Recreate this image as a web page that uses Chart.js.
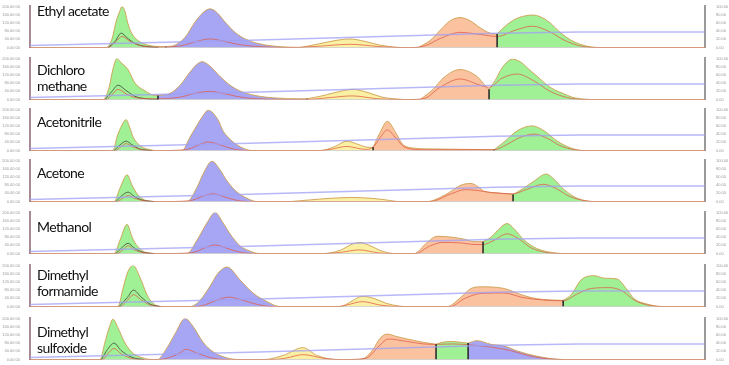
<!DOCTYPE html>
<html>
<head>
<meta charset="utf-8">
<script src="https://cdn.jsdelivr.net/npm/chart.js"></script>
<style>
  body { margin: 0; background: #fff; width: 729px; height: 365px; overflow: hidden; position: relative; }
  canvas { position: absolute; left: 0; }
  .name { position: absolute; left: 37px; font: 14px Lato, sans-serif; line-height: 16px; letter-spacing: -0.6px; color: #111; }
</style>
</head>
<body>
<script>
// retention time axis (min)
const timeMax = 32.6;
const timeTicks = [5, 10, 15, 20, 25, 30];

// solvent gradient (% B), right axis
const gradient = [[0, 5], [10.6, 18], [22.5, 35], [26.5, 38], [32.6, 38]];

// Ethyl acetate
const ethylSignal = [[0,0],[3.62,0],[3.67,0],[3.96,21],[4.15,62],[4.35,90],[4.44,100],[4.59,87],[4.73,58],[4.93,33],[5.22,17],[5.56,8],[6.04,3],[6.57,2],
  [7.00,6],[7.49,25],[7.97,62],[8.36,85],[8.70,94],[9.03,85],[9.42,62],[9.90,37],[10.39,21],[11.01,10],[11.69,4],[12.56,1],[13.04,0],
  [13.86,8],[14.73,17],[15.46,21],[16.18,15],[16.91,6],[17.63,1],[17.87,0],[18.74,0],
  [19.32,17],[19.81,42],[20.29,65],[20.77,73],[21.26,65],[21.74,48],[22.22,35],[22.56,33],
  [22.95,52],[23.43,69],[23.91,77],[24.25,79],[24.64,75],[25.12,60],[25.60,37],[26.09,19],[26.57,8],[27.05,2],[27.54,0],[32.6,0]];
const ethylCuts = [6.57, 13.04, 18.74, 22.56];
const ethylTrace = [[0,0],[3.77,0],[4.15,15],[4.44,27],[4.83,15],[5.31,5],[6.04,1],[7.25,4],[8.12,16],[8.70,21],[9.32,16],[10.14,7],[11.26,2],[12.5,0],[13.86,3],[15.46,8],[17.0,2],[18.2,0],[18.99,3],[19.81,22],[20.77,37],[21.74,32],[22.56,27],[23.43,42],[24.25,52],[25.12,38],[25.80,18],[26.57,4],[27.54,0],[32.6,0]];
const ethylDark = [[3.77,0],[4.11,15],[4.40,35],[4.73,22],[5.07,10],[5.56,3],[6.2,0]];

// Dichloromethane
const dichSignal = [[0,0],[3.53,0],[3.82,30],[4.01,75],[4.20,100],[4.35,92],[4.73,73],[5.07,40],[5.56,21],[6.04,10],[6.18,10],
  [6.76,15],[7.25,35],[7.73,67],[8.12,88],[8.31,92],[8.70,81],[9.18,56],[9.66,35],[10.14,21],[10.87,10],[11.84,4],[13.04,2],[13.38,2],
  [14.01,8],[14.73,17],[15.56,25],[16.33,17],[17.0,6],[17.87,1],[18.21,0],[18.84,0],
  [19.47,25],[19.95,52],[20.77,73],[21.59,56],[22.07,29],[22.17,25],
  [22.46,46],[22.80,77],[23.29,98],[23.67,92],[24.15,71],[24.64,50],[24.98,35],[25.36,23],[25.75,15],[26.18,6],[26.81,1],[27.29,0],[32.6,0]];
const dichCuts = [6.18, 13.38, 18.84, 22.17];
const dichTrace = [[0,0],[3.67,0],[3.96,12],[4.25,25],[4.64,14],[5.17,4],[6.18,2],[7.25,6],[8.12,17],[8.70,20],[9.42,14],[10.29,5],[11.5,1],[13.2,0],[14.5,5],[15.56,9],[16.8,2],[18.0,0],[18.99,2],[19.81,30],[20.77,50],[21.74,35],[22.17,30],[22.80,52],[23.53,62],[24.35,45],[25.12,20],[25.94,5],[26.8,0],[32.6,0]];
const dichDark = [[3.62,0],[3.96,20],[4.25,35],[4.64,22],[5.07,8],[5.6,2],[6.2,0]];

// Acetonitrile
const acnSignal = [[0,0],[4.01,0],[4.20,33],[4.44,62],[4.64,75],[4.83,54],[4.98,33],[5.31,12],[5.80,2],[6.2,0],[7.0,0],
  [7.34,0],[7.73,33],[8.07,62],[8.36,85],[8.60,98],[9.08,75],[9.32,48],[9.81,21],[10.29,6],[10.77,0],[13.5,0],
  [14.01,0],[14.73,10],[15.31,23],[15.85,15],[16.33,8],[16.57,8],
  [16.91,44],[17.25,71],[17.68,42],[17.97,17],[18.55,6],[19.5,4],[21.0,3],[22.42,2],
  [22.90,21],[23.53,48],[24.25,60],[24.83,48],[25.46,23],[26.14,6],[26.76,0],[32.6,0]];
const acnCuts = [7.0, 13.5, 16.57, 22.42];
const acnTrace = [[0,0],[4.11,0],[4.40,10],[4.64,17],[4.93,10],[5.4,2],[6.0,0],[7.5,2],[8.21,15],[8.60,21],[9.18,14],[9.81,4],[10.6,0],[14.0,0],[14.5,3],[15.31,10],[16.2,3],[16.57,8],[16.96,35],[17.25,50],[17.68,30],[18.1,8],[19.0,2],[22.42,2],[23.0,14],[23.67,32],[24.35,40],[24.98,30],[25.6,12],[26.3,2],[27.0,0],[32.6,0]];
const acnDark = [[4.06,0],[4.35,14],[4.64,23],[4.93,14],[5.3,4],[5.9,0]];

// Acetone
const acetSignal = [[0,0],[4.06,0],[4.35,33],[4.69,65],[4.93,40],[5.17,19],[5.65,2],[6.2,0],[7.2,0],
  [7.58,0],[8.07,35],[8.36,67],[8.79,98],[9.18,77],[9.52,50],[10.0,23],[10.48,8],[10.97,0],[12.56,0],
  [13.5,4],[14.5,8],[15.5,10],[16.5,8],[17.2,4],[17.87,0],[18.4,0],
  [19.18,0],[19.81,10],[20.34,25],[20.82,40],[21.30,44],[21.64,36],[21.93,25],[22.56,21],[23.33,17],
  [23.86,33],[24.35,50],[24.93,67],[25.31,54],[25.80,29],[26.43,8],[27.25,0],[32.6,0]];
const acetCuts = [7.2, 12.56, 18.4, 23.33];
const acetTrace = [[0,0],[4.2,0],[4.5,9],[4.74,15],[5.0,9],[5.5,2],[6.2,0],[7.7,2],[8.4,14],[8.84,19],[9.3,13],[9.9,4],[10.6,0],[19.3,0],[20.3,18],[21.0,29],[21.6,27],[22.3,22],[23.33,19],[24.0,30],[24.8,42],[25.4,32],[26.0,14],[26.7,3],[27.3,0],[32.6,0]];
const acetDark = [[4.15,0],[4.45,15],[4.74,23],[5.0,14],[5.4,4],[6.0,0]];

// Methanol
const methSignal = [[0,0],[4.06,0],[4.35,33],[4.69,71],[4.93,40],[5.17,19],[5.65,2],[6.2,0],[7.2,0],
  [7.58,0],[8.07,33],[8.55,75],[8.94,100],[9.32,75],[9.66,48],[10.14,19],[10.63,6],[11.11,0],[13.5,0],
  [14.11,0],[14.98,8],[15.56,23],[15.94,27],[16.43,19],[17.0,6],[17.63,0],[18.3,0],
  [18.55,0],[19.18,27],[19.66,42],[20.34,40],[20.97,35],[21.45,29],[21.88,29],
  [22.27,40],[22.66,60],[23.04,73],[23.38,60],[23.86,33],[24.49,12],[25.31,2],[25.94,0],[32.6,0]];
const methCuts = [7.2, 13.5, 18.3, 21.88];
const methTrace = [[0,0],[4.2,0],[4.5,10],[4.74,19],[5.0,10],[5.5,2],[6.2,0],[7.8,2],[8.5,15],[8.94,21],[9.5,13],[10.1,4],[10.8,0],[14.2,0],[15.0,3],[15.9,9],[16.8,2],[17.5,0],[18.6,0],[19.3,18],[19.9,27],[20.8,26],[21.5,22],[21.88,22],[22.4,32],[23.04,48],[23.6,36],[24.2,14],[24.9,3],[25.6,0],[32.6,0]];
const methDark = [[4.15,0],[4.45,15],[4.74,25],[5.0,15],[5.4,4],[6.0,0]];

// Dimethylformamide
const dmfSignal = [[0,0],[4.25,0],[4.49,44],[4.73,85],[4.98,100],[5.31,71],[5.65,29],[5.94,8],[6.43,0],[7.5,0],
  [7.73,0],[8.21,15],[8.70,50],[9.08,81],[9.52,96],[10.14,65],[10.77,33],[11.45,12],[12.08,0],[13.5,0],
  [14.98,0],[15.5,12],[16.04,25],[16.6,20],[17.2,8],[17.87,1],[18.3,0],[19.8,0],
  [20.14,0],[20.82,23],[21.30,44],[21.79,48],[22.90,44],[23.72,29],[24.49,19],[25.75,15],
  [26.14,29],[26.62,65],[27.25,75],[27.73,69],[28.36,67],[28.79,44],[29.18,19],[29.81,6],[30.63,0],[32.6,0]];
const dmfCuts = [7.5, 13.5, 19.8, 25.75];
const dmfTrace = [[0,0],[4.35,0],[4.7,15],[5.0,29],[5.35,17],[5.8,4],[6.4,0],[7.8,0],[8.3,2],[9.0,15],[9.6,23],[10.3,15],[11.0,5],[11.8,0],[14.8,0],[15.3,4],[16.04,12],[17.0,3],[18.0,0],[20.3,0],[21.0,20],[21.8,32],[22.9,33],[23.8,22],[24.8,16],[25.75,14],[26.4,30],[27.1,44],[28.0,46],[28.6,38],[29.2,15],[29.9,3],[30.6,0],[32.6,0]];
const dmfDark = [[4.3,0],[4.7,22],[5.0,40],[5.35,24],[5.8,6],[6.3,0]];

// Dimethyl sulfoxide
const dmsoSignal = [[0,0],[3.38,0],[3.62,42],[3.82,77],[4.01,98],[4.25,77],[4.59,40],[4.98,15],[5.46,4],[5.94,0],[6.05,0],
  [6.14,0],[6.62,29],[7.00,62],[7.49,100],[7.87,81],[8.36,42],[8.84,19],[9.52,4],[10.14,0],[11.0,0],
  [11.26,0],[12.22,10],[13.19,29],[13.86,10],[14.83,0],[15.3,0],
  [15.85,0],[16.2,5],[16.57,25],[16.91,52],[17.25,62],[17.7,56],[18.21,50],[18.99,42],[19.61,37],
  [19.9,42],[20.4,44],[20.8,42],[21.16,40],
  [21.59,46],[22.27,37],[22.90,33],[23.53,21],[24.49,8],[25.46,1],[26.28,0],[32.6,0]];
const dmsoCuts = [6.05, 11.0, 15.3, 19.61, 21.16];
const dmsoTrace = [[0,0],[3.5,0],[3.75,14],[4.06,27],[4.4,14],[4.9,3],[5.5,0],[6.2,0],[6.6,3],[7.2,15],[7.55,25],[8.0,17],[8.7,5],[9.5,0],[11.6,0],[12.3,3],[13.19,12],[14.2,3],[15.0,0],[16.2,3],[16.9,35],[17.3,50],[18.2,44],[19.0,38],[19.61,37],[20.4,38],[21.16,36],[21.6,34],[22.3,30],[23.2,22],[24.2,8],[25.2,1],[26.0,0],[32.6,0]];
const dmsoDark = [[3.45,0],[3.75,25],[4.06,40],[4.4,22],[4.9,6],[5.5,0]];

const fills = {
  green: 'rgb(160,240,150)',
  blue: 'rgb(166,166,244)',
  yellow: 'rgb(250,240,164)',
  orange: 'rgb(250,194,158)'
};

const panels = [
  { name: ['Ethyl acetate'], signal: ethylSignal, cuts: ethylCuts, trace: ethylTrace, dark: ethylDark, colors: ['green','blue','yellow','orange','green'], base: 50, textTop: 3 },
  { name: ['Dichloro', 'methane'], signal: dichSignal, cuts: dichCuts, trace: dichTrace, dark: dichDark, colors: ['green','blue','yellow','orange','green'], base: 102, textTop: 62 },
  { name: ['Acetonitrile'], signal: acnSignal, cuts: acnCuts, trace: acnTrace, dark: acnDark, colors: ['green','blue','yellow','orange','green'], base: 153, textTop: 114 },
  { name: ['Acetone'], signal: acetSignal, cuts: acetCuts, trace: acetTrace, dark: acetDark, colors: ['green','blue','yellow','orange','green'], base: 204, textTop: 165 },
  { name: ['Methanol'], signal: methSignal, cuts: methCuts, trace: methTrace, dark: methDark, colors: ['green','blue','yellow','orange','green'], base: 256, textTop: 219 },
  { name: ['Dimethyl', 'formamide'], signal: dmfSignal, cuts: dmfCuts, trace: dmfTrace, dark: dmfDark, colors: ['green','blue','yellow','orange','green'], base: 309, textTop: 267 },
  { name: ['Dimethyl', 'sulfoxide'], signal: dmsoSignal, cuts: dmsoCuts, trace: dmsoTrace, dark: dmsoDark, colors: ['green','blue','yellow','orange','green','blue'], base: 362, textTop: 324 }
];

const pts = arr => arr.map(p => ({ x: p[0], y: p[1] }));

function splitSignal(signal, cuts) {
  const bounds = [-Infinity, ...cuts, Infinity];
  return bounds.slice(0, -1).map((lo, i) => pts(signal.filter(p => p[0] >= lo && p[0] <= bounds[i + 1])));
}

function makePanel(p, idx) {
  const canvas = document.createElement('canvas');
  canvas.width = 729;
  canvas.height = 52;
  canvas.style.top = (p.base - 49) + 'px';
  document.body.appendChild(canvas);

  const datasets = [];
  splitSignal(p.signal, p.cuts).forEach((seg, i) => {
    datasets.push({
      data: seg, yAxisID: 'y', order: 5,
      backgroundColor: fills[p.colors[i]], borderColor: 'rgba(206,160,80,0.9)', borderWidth: 1,
      fill: 'origin', pointRadius: 0, cubicInterpolationMode: 'monotone'
    });
  });
  p.cuts.forEach(c => {
    const v = p.signal.find(q => q[0] === c)[1];
    datasets.push({ data: [{ x: c, y: 0 }, { x: c, y: v }], yAxisID: 'y', order: 1,
      borderColor: '#222', borderWidth: 1.5, pointRadius: 0, fill: false });
  });
  datasets.push({ data: pts(p.trace), yAxisID: 'y', order: 2, borderColor: 'rgba(226,90,70,0.75)', borderWidth: 1,
    pointRadius: 0, fill: false, cubicInterpolationMode: 'monotone' });
  datasets.push({ data: pts(p.dark), yAxisID: 'y', order: 2, borderColor: 'rgba(60,70,60,0.8)', borderWidth: 1,
    pointRadius: 0, fill: false, cubicInterpolationMode: 'monotone' });
  datasets.push({ data: pts(gradient), yAxisID: 'g', order: 0, borderColor: 'rgba(160,160,245,0.75)', borderWidth: 1.5,
    pointRadius: 0, fill: false, tension: 0 });

  new Chart(canvas, {
    type: 'line',
    data: { datasets },
    options: {
      responsive: false,
      animation: false,
      layout: { padding: { top: 1 } },
      plugins: { legend: { display: false }, tooltip: { enabled: false } },
      scales: {
        x: {
          type: 'linear', min: 0, max: timeMax,
          afterFit: s => { s.height = 3; },
          afterBuildTicks: s => { s.ticks = timeTicks.map(v => ({ value: v })); },
          ticks: { display: false },
          grid: { display: false },
          border: { color: '#d0d0d0', width: 1 }
        },
        y: {
          min: 0, max: 100,
          afterFit: s => { s.width = 30; },
          ticks: { stepSize: 10, font: { size: 4 }, color: '#999', padding: 2,
            callback: v => (v * 2).toFixed(2) + ' 00' },
          grid: { display: false },
          border: { color: '#a88a94', width: 2 }
        },
        g: {
          position: 'right', min: 0, max: 100,
          afterFit: s => { s.width = 24; },
          ticks: { stepSize: 20, font: { size: 4 }, color: '#999', padding: 3,
            callback: v => v.toFixed(2) },
          grid: { display: false },
          border: { color: '#9a9a9a', width: 2 }
        }
      }
    }
  });

  const label = document.createElement('div');
  label.className = 'name';
  label.style.top = p.textTop + 'px';
  label.innerHTML = p.name.join('<br>');
  document.body.appendChild(label);
}

panels.forEach(makePanel);
</script>
</body>
</html>
